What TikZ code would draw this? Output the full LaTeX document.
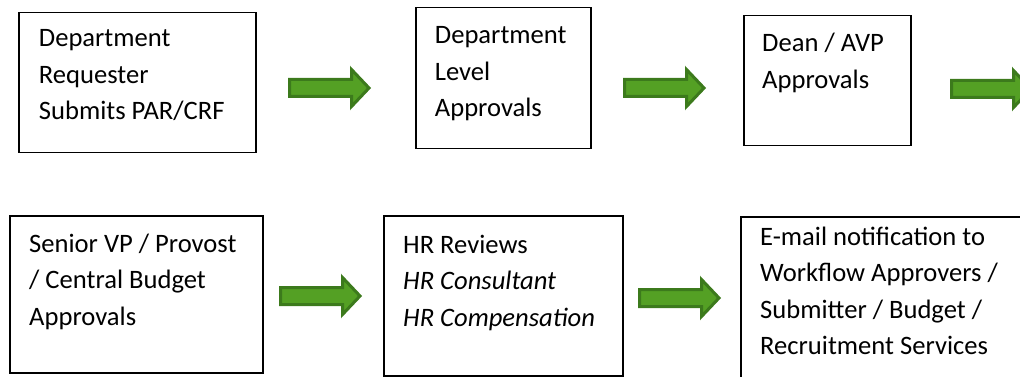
\documentclass[tikz,border=0pt]{standalone}
\usepackage{fontspec}
\setmainfont{Carlito}
\definecolor{arrowfill}{RGB}{84,160,36}
\definecolor{arrowline}{RGB}{60,122,28}
\tikzset{
  box/.style={draw=black, line width=1.5pt, anchor=north west, inner sep=0pt},
  boxtext/.style={anchor=base west, align=left, inner sep=0pt, font=\fontsize{26.6}{36.5}\selectfont},
  blockarrow/.pic={
    \filldraw[fill=arrowfill, draw=arrowline, line width=3pt, line join=miter]
      (1.5,-8.5) -- (63.5,-8.5) -- (63.5,-18.5) -- (81,0) -- (63.5,18.5) -- (63.5,8.5) -- (1.5,8.5) -- cycle;
  }
}

\begin{document}
\begin{tikzpicture}[x=1pt, y=-1pt]
\useasboundingbox (0,0) rectangle (1020,377);

% first row (text nodes sit on the baseline of their last line)
\node[box, minimum width=237pt, minimum height=140pt] (requester) at (18,12) {};
\node[boxtext] (requestertext) at (38.7,120) {Department\\Requester\\Submits PAR/CRF};

\node[box, minimum width=175pt, minimum height=141pt] (deptlevel) at (415,7) {};
\node[boxtext] (deptleveltext) at (434.7,117) {Department\\Level\\Approvals};

\node[box, minimum width=167pt, minimum height=130pt] (dean) at (743,15) {};
\node[boxtext] (deantext) at (762,88.5) {Dean / AVP\\Approvals};

% second row
\node[box, minimum width=253pt, minimum height=157pt] (seniorvp) at (9,215) {};
\node[boxtext] (seniorvptext) at (29,325) {Senior VP / Provost\\/ Central Budget\\Approvals};

\node[box, minimum width=239pt, minimum height=160pt] (hrreview) at (383,215) {};
\node[boxtext] (hrreviewtext) at (403,326) {HR Reviews\\\textit{HR Consultant}\\\textit{HR Compensation}};

\node[box, minimum width=300pt, minimum height=200pt] (notify) at (740,216) {};
\node[boxtext] (notifytext) at (760,354.5) {E-mail notification to\\Workflow Approvers /\\Submitter / Budget /\\Recruitment Services};

% green arrows
\foreach \n/\x/\y in {1/288/88, 2/623/88, 3/950/89, 4/279/296, 5/638/298}
{
  \pic (arrow\n) at (\x,\y) {blockarrow};
}

\end{tikzpicture}
\end{document}
